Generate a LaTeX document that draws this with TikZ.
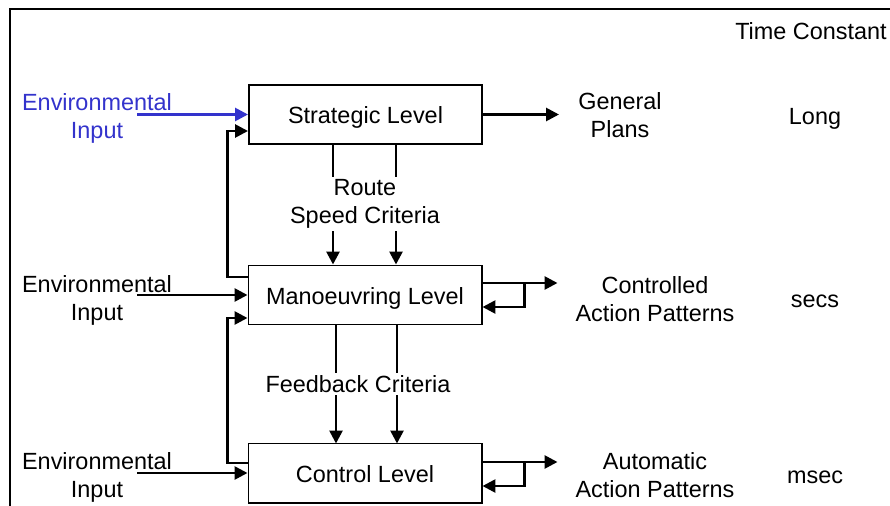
\documentclass[tikz,border=0pt]{standalone}
\usepackage{fontspec}
\setmainfont{Liberation Sans}
\usetikzlibrary{arrows.meta,calc}
\definecolor{envblue}{RGB}{51,51,204}
\begin{document}
\begin{tikzpicture}[%
    x=0.03cm, y=-0.03cm,
    font=\fontsize{20}{23.8}\selectfont,
    level/.style={
        draw=black,
        line width=1.7pt,
        minimum width=6.99cm,
        minimum height=1.77cm,
        inner sep=0pt,
        text height=15.5pt,
        text depth=0pt
    },
    txt/.style={align=center, inner sep=0pt},
    crit/.style={align=center, fill=white, inner sep=2pt},
    arr/.style={line width=2.3pt, -{Triangle[length=11pt,width=11pt]}}
]
    % Fix the page size to the reference.
    \useasboundingbox (0,0) rectangle (890,506);

    % Outer frame, cut by the page on the right and at the bottom.
    \draw[line width=1.7pt] (10,520) -- (10,9) -- (900,9);

    % The three levels.
    \node[level] (strategic)   at (365.5,114.5) {Strategic Level};
    \node[level] (manoeuvring) at (365,295)     {Manoeuvring Level};
    \node[level] (control)     at (365,473)     {Control Level};

    % Inputs on the left.
    \node[txt, text=envblue] (envtop) at (97,118) {Environmental\\Input};
    \node[txt] (envmid) at (97,300) {Environmental\\Input};
    \node[txt] (envbot) at (97,477) {Environmental\\Input};

    % Outputs and time constants on the right.
    \node[txt] (plans)      at (620,115) {General\\Plans};
    \node[txt] (controlled) at (655,299) {Controlled\\Action Patterns};
    \node[txt] (automatic)  at (655,475) {Automatic\\Action Patterns};
    \node[txt] (timeconst)  at (811,31)  {Time Constant};
    \node[txt] (long)       at (815,119) {Long};
    \node[txt] (secs)       at (815,301) {secs};
    \node[txt] (msec)       at (815,477) {msec};

    % Input arrows.
    \draw[arr, draw=envblue] ($(envtop.center |- strategic.west)+(40,0)$) -- (strategic.west);
    \draw[arr] ($(envmid.center |- manoeuvring.west)+(40,0)$) -- (manoeuvring.west);
    \draw[arr] ($(envbot.center |- control.west)+(40,0)$) -- (control.west);

    % Feedback on the left, from a lower level to the one above.
    \draw[arr] ($(manoeuvring.west)+(0,-18)$) -- ++(-20,0)
        |- ($(strategic.west)+(0,16.5)$);
    \draw[arr] ($(control.west)+(0,-10)$) -- ++(-20,0)
        |- ($(manoeuvring.west)+(0,23)$);

    % Outputs and self loops on the right.
    \draw[arr] (strategic.east) -- ++(76,0);
    \draw[arr] ($(manoeuvring.east)+(0,-12)$) -- ++(75,0);
    \draw[arr] ($(manoeuvring.east)+(42,-12)$) |- ($(manoeuvring.east)+(0,12)$);
    \draw[arr] ($(control.east)+(0,-11)$) -- ++(75,0);
    \draw[arr] ($(control.east)+(42,-11)$) |- ($(control.east)+(0,13)$);

    % Criteria passed downwards.
    \draw[arr] ($(strategic.south)+(-32.5,0)$) -- ($(manoeuvring.north)+(-32,0)$);
    \draw[arr] ($(strategic.south)+(30.5,0)$)  -- ($(manoeuvring.north)+(31,0)$);
    \draw[arr] ($(manoeuvring.south)+(-29,0)$) -- ($(control.south)+(-29,-60)$);
    \draw[arr] ($(manoeuvring.south)+(32,0)$)  -- ($(control.south)+(32,-60)$);

    \node[crit] (route)    at (365,204) {Route\\Speed Criteria};
    \node[crit] (feedback) at (358,384) {Feedback Criteria};
\end{tikzpicture}
\end{document}
